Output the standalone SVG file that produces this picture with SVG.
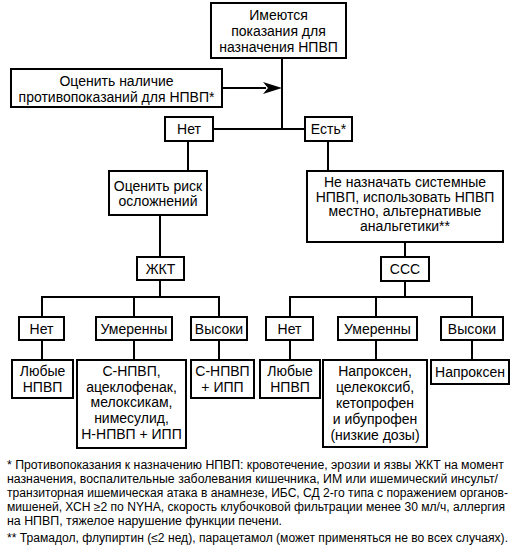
<svg xmlns="http://www.w3.org/2000/svg" width="531" height="557" viewBox="0 0 531 557">
<style>
.b{fill:#fff;stroke:#000;stroke-width:2}
.t{font-family:"Liberation Sans",Arial,sans-serif;font-size:14px;fill:#000;text-anchor:middle}
.f{font-family:"Liberation Sans",Arial,sans-serif;font-size:12px;fill:#000}
.c line{stroke:#000;stroke-width:2}
</style>
<rect width="531" height="557" fill="#fff"/>
<g class="c" id="connectors">
<line x1="282" y1="58" x2="282" y2="129"/>
<line x1="222" y1="88" x2="266" y2="88"/>
<polygon points="282,88 263,82 268,88 263,94" fill="#000"/>
<line x1="213" y1="129" x2="305" y2="129"/>
<line x1="188" y1="141" x2="188" y2="171"/>
<line x1="328" y1="141" x2="328" y2="171"/>
<line x1="160" y1="215" x2="160" y2="257"/>
<line x1="160" y1="280" x2="160" y2="297"/>
<line x1="41" y1="297" x2="220" y2="297"/>
<line x1="42" y1="297" x2="42" y2="317"/>
<line x1="134" y1="297" x2="134" y2="317"/>
<line x1="219" y1="297" x2="219" y2="317"/>
<line x1="42" y1="340" x2="42" y2="360"/>
<line x1="134" y1="340" x2="134" y2="360"/>
<line x1="219" y1="340" x2="219" y2="360"/>
<line x1="405" y1="242" x2="405" y2="257"/>
<line x1="405" y1="281" x2="405" y2="297"/>
<line x1="289" y1="297" x2="473" y2="297"/>
<line x1="290" y1="297" x2="290" y2="317"/>
<line x1="376" y1="297" x2="376" y2="317"/>
<line x1="472" y1="297" x2="472" y2="317"/>
<line x1="290" y1="340" x2="290" y2="360"/>
<line x1="376" y1="340" x2="376" y2="360"/>
<line x1="472" y1="340" x2="472" y2="360"/>
</g>
<g id="start"><rect class="b" x="211" y="3" width="135" height="55"/>
<text class="t" x="278.5" y="20">Имеются</text><text class="t" x="278.5" y="36">показания для</text><text class="t" x="278.5" y="52">назначения НПВП</text></g>
<g id="contra"><rect class="b" x="11" y="69" width="211" height="38"/>
<text class="t" x="116.5" y="86">Оценить наличие</text><text class="t" x="116.5" y="102">противопоказаний для НПВП*</text></g>
<g id="no"><rect class="b" x="165" y="117" width="48" height="24"/><text class="t" x="189" y="134">Нет</text></g>
<g id="yes"><rect class="b" x="305" y="117" width="47" height="24"/><text class="t" x="328.5" y="134">Есть*</text></g>
<g id="risk"><rect class="b" x="109" y="171" width="98" height="44"/>
<text class="t" x="158" y="191">Оценить риск</text><text class="t" x="158" y="206">осложнений</text></g>
<g id="nosys"><rect class="b" x="307" y="171" width="196" height="71"/>
<text class="t" x="405" y="187">Не назначать системные</text><text class="t" x="405" y="201.5">НПВП, использовать НПВП</text><text class="t" x="405" y="216">местно, альтернативые</text><text class="t" x="405" y="230.5">анальгетики**</text></g>
<g id="gi"><rect class="b" x="137" y="257" width="47" height="23"/><text class="t" x="160.5" y="274">ЖКТ</text></g>
<g id="cv"><rect class="b" x="381" y="257" width="48" height="24"/><text class="t" x="405" y="274">ССС</text></g>
<g id="gi-no"><rect class="b" x="19" y="317" width="45" height="23"/><text class="t" x="41.5" y="334">Нет</text></g>
<g id="gi-mod"><rect class="b" x="96" y="317" width="76" height="23"/><text class="t" x="134" y="334">Умеренны</text></g>
<g id="gi-high"><rect class="b" x="191" y="317" width="56" height="23"/><text class="t" x="219" y="334">Высоки</text></g>
<g id="gi-no-r"><rect class="b" x="12" y="360" width="61" height="38"/><text class="t" x="42.5" y="376">Любые</text><text class="t" x="42.5" y="392">НПВП</text></g>
<g id="gi-mod-r"><rect class="b" x="77" y="360" width="109" height="88"/>
<text class="t" x="131.5" y="376">С-НПВП,</text><text class="t" x="131.5" y="391.5">ацеклофенак,</text><text class="t" x="131.5" y="407">мелоксикам,</text><text class="t" x="131.5" y="423">нимесулид,</text><text class="t" x="131.5" y="439">Н-НПВП + ИПП</text></g>
<g id="gi-high-r"><rect class="b" x="191" y="360" width="63" height="38"/><text class="t" x="222.5" y="376">С-НПВП</text><text class="t" x="222.5" y="392">+ ИПП</text></g>
<g id="cv-no"><rect class="b" x="266" y="317" width="47" height="23"/><text class="t" x="289.5" y="334">Нет</text></g>
<g id="cv-mod"><rect class="b" x="338" y="317" width="79" height="23"/><text class="t" x="377.5" y="334">Умеренны</text></g>
<g id="cv-high"><rect class="b" x="441" y="317" width="62" height="23"/><text class="t" x="472" y="334">Высоки</text></g>
<g id="cv-no-r"><rect class="b" x="260" y="360" width="60" height="38"/><text class="t" x="290" y="376">Любые</text><text class="t" x="290" y="392">НПВП</text></g>
<g id="cv-mod-r"><rect class="b" x="323" y="360" width="104" height="87"/>
<text class="t" x="375" y="376">Напроксен,</text><text class="t" x="375" y="392">целекоксиб,</text><text class="t" x="375" y="408">кетопрофен</text><text class="t" x="375" y="424">и ибупрофен</text><text class="t" x="375" y="440">(низкие дозы)</text></g>
<g id="cv-high-r"><rect class="b" x="431" y="360" width="78" height="24"/><text class="t" x="470" y="377">Напроксен</text></g>
<g id="notes">
<text class="f" x="7" y="469" textLength="497" lengthAdjust="spacingAndGlyphs">* Противопоказания к назначению НПВП: кровотечение, эрозии и язвы ЖКТ на момент</text>
<text class="f" x="7" y="483" textLength="491" lengthAdjust="spacingAndGlyphs">назначения, воспалительные заболевания кишечника, ИМ или ишемический инсульт/</text>
<text class="f" x="7" y="497" textLength="501" lengthAdjust="spacingAndGlyphs">транзиторная ишемическая атака в анамнезе, ИБС, СД 2-го типа с поражением органов-</text>
<text class="f" x="7" y="511" textLength="498" lengthAdjust="spacingAndGlyphs">мишеней, ХСН ≥2 по NYHA, скорость клубочковой фильтрации менее 30 мл/ч, аллергия</text>
<text class="f" x="7" y="525" textLength="275" lengthAdjust="spacingAndGlyphs">на НПВП, тяжелое нарушение функции печени.</text>
<text class="f" x="7" y="542" textLength="501" lengthAdjust="spacingAndGlyphs">** Трамадол, флупиртин (≤2 нед), парацетамол (может применяться не во всех случаях).</text>
</g>
</svg>
